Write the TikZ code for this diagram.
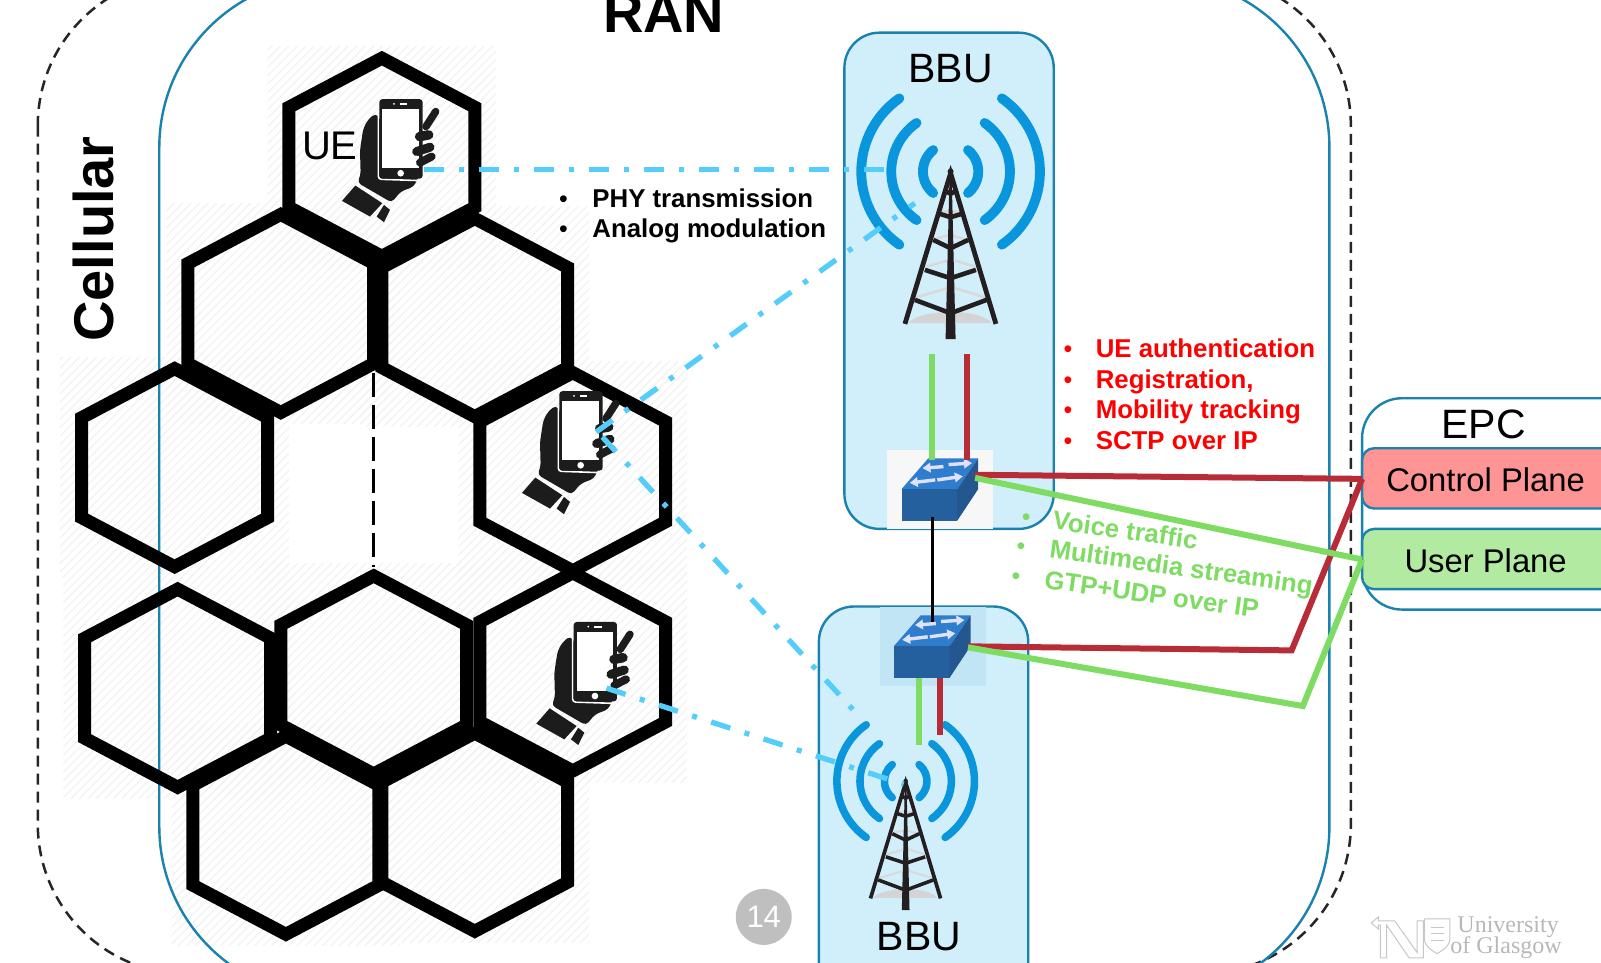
\documentclass[tikz,border=0pt]{standalone}
\usepackage{fontspec}
\setmainfont{Liberation Sans}
\newfontfamily\serifgl{Liberation Serif}
\usetikzlibrary{patterns.meta,calc,arrows.meta}
\definecolor{ranblue}{HTML}{1A82AE}
\definecolor{bbufill}{HTML}{D1EEFB}
\definecolor{arcblue}{HTML}{0A96DC}
\definecolor{linkblue}{HTML}{54CDFB}
\definecolor{gline}{HTML}{7EDC63}
\definecolor{rline}{HTML}{B82C38}
\definecolor{twr}{HTML}{231F20}
\definecolor{swfront}{HTML}{245F9E}
\definecolor{swside}{HTML}{24568F}
\definecolor{swtop}{HTML}{2F7DCD}
\definecolor{hand}{HTML}{1C1C1C}
\tikzset{
  hexcell/.style={draw=black,line width=13pt,line join=miter,miter limit=3},
  hatchbox/.style={pattern={Lines[angle=45,distance=6pt,line width=1.2pt]},pattern color=black!5},
  bbubox/.style={draw=ranblue,fill=bbufill,line width=2.4pt,rounded corners=35pt},
  planebox/.style={draw=ranblue,line width=2.4pt,rounded corners=12pt},
  wireless/.style={draw=linkblue,line width=5.3pt,dash pattern=on 20pt off 15pt on 5pt off 15pt},
  greenwire/.style={draw=gline,line width=6pt,line join=miter},
  redwire/.style={draw=rline,line width=6pt,line join=miter},
  bigtext/.style={font=\fontsize{41}{41}\selectfont,inner sep=0pt},
  planetext/.style={font=\fontsize{32.8}{32.8}\selectfont,inner sep=0pt},
  titletext/.style={font=\bfseries\fontsize{56}{56}\selectfont,inner sep=0pt},
  itemblack/.style={font=\bfseries\fontsize{25.8}{25.8}\selectfont,inner sep=0pt,anchor=base west,text=black},
  itemred/.style={itemblack,text=red},
  itemgreen/.style={itemblack,text=gline,rotate=-8},
  bulletb/.style={font=\fontsize{25}{25}\selectfont,inner sep=0pt,anchor=base},
  logoline/.style={draw=black!22,line width=1pt},
  logotext/.style={font=\serifgl\fontsize{24}{24}\selectfont,text=black!28,inner sep=0pt},
  swarrow/.style={white!88!blue,line width=3.4pt,-{Triangle[length=8pt,width=9.5pt]}}
}
\newcommand\hexat[2]{%
  \draw[hexcell] (#1,#2-97) -- (#1+91,#2-49) -- (#1+91,#2+49) -- (#1,#2+97) -- (#1-91,#2+49) -- (#1-91,#2-49) -- cycle;}
\newcommand\hatchat[2]{\fill[hatchbox] (#1-112,#2-108) rectangle (#1+112,#2+108);}
\newcommand\towerat[3]{%
 \begin{scope}[shift={(#1,#2)},scale=.3265*#3,shift={(-332,-335)}]
  \foreach \s in {-1,1}{
   \foreach \r/\ang in {83/51,178/55,268/55}{
    \draw[arcblue,line width=#3*9.8pt,line cap=round] ({332+\s*\r*cos(\ang)},{335-\r*sin(\ang)}) arc[start angle={90-\s*(90+\ang)},end angle={90-\s*(90-\ang)},radius=\r];
   }}
  \fill[black!17] (205,790) .. controls (240,745) and (425,745) .. (455,790) -- cycle;
  \draw[black!15,line width=#3*2.6pt] (230,712) -- (322,685) (345,685) -- (435,712) (260,620) -- (322,602) (345,602) -- (405,620) (285,537) -- (330,525) -- (380,540) (305,455) -- (360,455);
  \draw[twr,line width=#3*4.8pt,line join=miter] (195,792) -- (332,340) -- (468,792);
  \fill[twr] (329,340) -- (335,340) -- (347,838) -- (317,838) -- cycle;
  \fill[twr] (332,335) circle (9);
  \draw[twr,line width=#3*4.6pt] (320,395) -- (332,402) -- (344,395) (300,462) -- (332,472) -- (365,462) (280,540) -- (332,565) -- (385,540) (255,630) -- (332,655) -- (408,630) (225,720) -- (332,760) -- (440,720);
 \end{scope}}
\newcommand\switchat[3]{%
 \begin{scope}[shift={(#2,#3)}]
  \fill[swtop] (0,0) -- (54.5,0) -- (75,-30) -- (26,-30) -- cycle;
  \fill[swfront] (0,0) rectangle (54.5,31);
  \fill[swside] (54.5,0) -- (75,-30) -- (75,0) -- (54.5,31) -- cycle;
  \draw[swarrow] (41,-22) -- (20.5,-20.5);
  \draw[swarrow] (46,-24) -- (69,-25.5);
  \draw[swarrow] (33,-9) -- (8,-6);
  \draw[swarrow] (35,-9) -- (60,-12.5);
  \coordinate (#1top) at (30,-28);
  \coordinate (#1bot) at (30,31);
 \end{scope}}
\newcommand\phoneat[2]{%
 \begin{scope}[shift={(#1,#2)},scale=.3265,shift={(-392,-300)}]
  \fill[hand,rounded corners=4pt] (318,220) -- (295,238) -- (280,265) -- (270,330) -- (272,405) -- (262,428) -- (365,488) -- (392,455) -- (432,440) -- (450,400) -- (350,300) -- (332,240) -- cycle;
  \fill[hand] (216,483) -- (256,437) -- (337,490) -- (300,530) -- cycle;
  \fill[hand] (320,530) -- (342,547) -- (360,510) -- (342,495) -- cycle;
  \draw[white,line width=1.6pt,rounded corners=3pt] (325,225) -- (325,418) -- (445,422);
  \fill[hand,rounded corners=3pt] (328,178) rectangle (458,416);
  \fill[white] (337,208) rectangle (447,385);
  \fill[white] (392,400) circle (10);
  \fill[white] (372,192) circle (3);
  \draw[white,line width=1.8pt] (390,192) -- (412,192);
  \draw[hand,line width=7.5pt,line cap=round] (468,260) -- (497,215);
  \draw[hand,line width=9.5pt,line cap=round] (449,290) -- (476,285);
  \draw[hand,line width=9pt,line cap=round] (440,335) -- (480,322);
  \draw[hand,line width=8pt,line cap=round] (450,368) -- (485,350);
 \end{scope}}
\begin{document}
\begin{tikzpicture}[x=1.021pt,y=-1.021pt]
\useasboundingbox (0,0) rectangle (1568,943);
\fill[white] (0,0) rectangle (1568,943);
% hatching behind hexagons
\hatchat{374}{154}\hatchat{275}{307}\hatchat{465}{310}\hatchat{171}{458}\hatchat{561}{462}
\hatchat{174}{674}\hatchat{366}{660}\hatchat{561}{658}\hatchat{280}{818}\hatchat{465}{815}
% outer frames
\draw[black!85,line width=2.5pt,dash pattern=on 11pt off 7pt,rounded corners=150pt] (37,-24) rectangle (1323,954);
\draw[ranblue,line width=2.4pt,rounded corners=170pt] (156,-22) rectangle (1302,976);
% hexagons
\draw[black,line width=2.5pt,dash pattern=on 24pt off 8pt] (366,365) -- (366,555);
\hexat{275}{307}\hexat{465}{311}\hexat{171}{458}\hexat{561}{462}\hexat{174}{674}\hexat{366}{661}\hexat{561}{658}\hexat{280}{818}\hexat{465}{815}\hexat{374}{154}
% BBU boxes
\draw[bbubox] (827,32) rectangle (1032,518);
\draw[bbubox] (802,594) rectangle (1007,990);
\fill[black!3] (869,441) rectangle (972.5,518);
\fill[ranblue!8!bbufill] (862,594.5) rectangle (965.5,672);
% phones
\phoneat{392.4}{137}
\phoneat{568.7}{423}
\phoneat{582.7}{649}
% towers
\towerat{931}{168}{1}
\towerat{887}{765}{0.77}
% named anchor points
\coordinate (ue1) at (415,166);
\coordinate (ue2) at (584,423);
\coordinate (ue2b) at (590,428);
\coordinate (ue3) at (594,674);
\coordinate (antA) at (875,166);
\coordinate (antB) at (896,199);
\coordinate (antC) at (840,700);
\coordinate (antD) at (885,768);
\coordinate (topG) at (913,347);
\coordinate (topR) at (947,347);
\coordinate (botG) at (900.5,730);
\coordinate (botR) at (921,720);
% switches
\switchat{swA}{883}{479}
\switchat{swB}{875.6}{632.7}
% wireless links
\draw[wireless] (ue1) -- (antA);
\draw[wireless] (ue2) -- (antB);
\draw[wireless] (ue2b) -- (antC);
\draw[wireless] (ue3) -- (antD);
% EPC
\draw[ranblue,line width=2.4pt,fill=white,rounded corners=40pt] (1334,390) rectangle (1640,597);
\draw[planebox,fill=red!42!white] (1334,439) rectangle (1640,498);
\draw[planebox,fill=gline!60!white] (1334,518) rectangle (1640,577);
\coordinate (ctrl) at (1334,469);
\coordinate (user) at (1334,548);
\coordinate (swAr) at (955,465);
\coordinate (swAg) at (955,468);
\coordinate (swBr) at (948,633);
\coordinate (swBg) at (948,634);
\coordinate (bendR) at (1265,637);
\coordinate (bendG) at (1276,691.5);
% wires
\draw[greenwire] (topG) -- (topG |- swAtop);
\draw[redwire] (topR) -- (topR |- swAtop);
\draw[black,line width=3pt] (913,506) -- (913,609);
\draw[greenwire] (botG) -- (900.5,663.7);
\draw[redwire] (botR) -- (921,663.7);
\draw[redwire] (swAr) -- (ctrl);
\draw[redwire] (swBr) -- (bendR) -- (ctrl);
\draw[greenwire] (swAg) -- (user);
\draw[greenwire] (swBg) -- (bendG) -- (user);
% labels
\node[titletext] (ran) at (650,13) {RAN};
\node[titletext,rotate=90] (cellular) at (91.5,234) {Cellular};
\node[bigtext,font=\fontsize{40}{40}\selectfont] (ue) at (323,143) {UE};
\node[bigtext] (bbu1) at (931,67) {BBU};
\node[bigtext] (bbu2) at (900,917) {BBU};
\node[bigtext] (epc) at (1453,416) {EPC};
\node[planetext] (cp) at (1455,470) {Control Plane};
\node[planetext] (up) at (1455,549) {User Plane};
\node[bulletb] (b1) at (552,203) {•};
\node[bulletb] (b2) at (552,233) {•};
\node[itemblack] (t1) at (580,203) {PHY transmission};
\node[itemblack] (t2) at (580,233) {Analog modulation};
\foreach \yy/\nm in {350/a,380/b,410/c,440/d}{\node[bulletb,text=red] (r\nm) at (1046,\yy) {•};}
\node[itemred] (r1) at (1073,350) {UE authentication};
\node[itemred] (r2) at (1073,380) {Registration,};
\node[itemred] (r3) at (1073,410) {Mobility tracking};
\node[itemred] (r4) at (1073,440) {SCTP over IP};
\node[bulletb,text=gline] (ga) at (1005,515) {•};
\node[bulletb,text=gline] (gb) at (1000,543) {•};
\node[bulletb,text=gline] (gc) at (995,572) {•};
\node[itemgreen] (g1) at (1030,518) {Voice traffic};
\node[itemgreen] (g2) at (1027,546) {Multimedia streaming};
\node[itemgreen] (g3) at (1022,576) {GTP+UDP over IP};
% page number
\node[circle,fill=black!25,text=white,minimum size=56pt,inner sep=0pt,font=\fontsize{31}{31}\selectfont] (pg) at (748,898) {14};
% logo
\draw[logoline] (1343,904) -- (1350,898) -- (1350,902) -- (1366,902) -- (1388,933) -- (1388,902) -- (1394,902) -- (1394,938) -- (1380,938) -- (1358,906) -- (1358,938) -- (1352,938) -- (1352,906) -- (1350,906) -- (1350,910) -- cycle;
\draw[logoline] (1395,900) -- (1420,900) -- (1420,920) .. controls (1419,928) and (1412,931) .. (1407.5,934) .. controls (1403,931) and (1396,928) .. (1395,920) -- cycle;
\draw[logoline] (1401,908) -- (1414,908) (1401,914) -- (1414,914) (1401,921) -- (1414,921);
\node[logotext] (lg1) at (1477,908) {University};
\node[logotext] (lg2) at (1475,928) {of Glasgow};
\end{tikzpicture}
\end{document}
